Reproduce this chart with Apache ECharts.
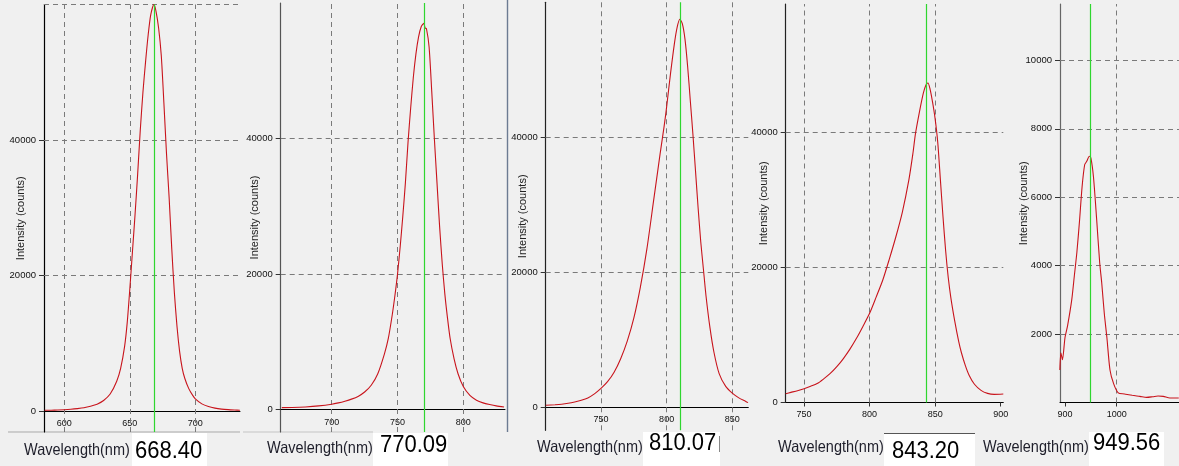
<!DOCTYPE html>
<html><head><meta charset="utf-8">
<script src="https://cdn.jsdelivr.net/npm/echarts@6/dist/echarts.min.js"></script>
<style>html,body{margin:0;padding:0;background:#f0f0f0}#c{width:1179px;height:466px}</style>
</head><body><div id="c"></div><script>
// ---- data: wavelength (nm) and intensity (counts) for each spectrum ----
const p1Wavelength = [585,590,595,600,605,610,615,620,625,630,635,640,643,646,648,650,652,654,656,658,660,662,664,666,668.4,670,672,674,676,678,680,682,684,686,688,690,692,695,698,700,705,710,715,720,725,730,734];
const p1Counts     = [100,110,140,180,250,350,480,700,1000,1550,2500,4400,6300,9500,13000,18000,23500,29000,35000,41500,47000,51500,55500,58500,60000,59000,56500,52500,45500,38000,31500,24000,17500,12500,8800,6300,4800,3300,2300,1800,1050,650,420,280,200,150,120];

const p2Wavelength = [662,670,680,690,700,705,710,715,720,725,730,735,740,743,746,748,750,752,754,756,758,760,762,764,766,768,770,771,772,774,776,778,780,782,784,786,788,790,793,796,800,805,810,815,820,825,831];
const p2Counts     = [300,320,400,550,800,1000,1250,1550,1950,2600,3600,5300,8200,10500,14000,16800,20000,24000,28500,33500,39500,44500,49000,52500,55000,56500,57000,56300,56200,53500,47000,40000,33500,27000,21500,17000,13500,10500,7500,5300,3400,2100,1400,1000,750,550,400];

const p3Wavelength = [708,715,720,725,730,735,740,745,750,755,760,765,770,775,780,785,790,795,798,800,803,806,808,810,812,814,816,818,820,822,824,826,828,830,833,836,840,845,850,855,860,862];
const p3Counts     = [300,380,460,600,800,1050,1400,2000,2800,3800,5200,7200,9800,13200,17800,23500,30500,37500,41500,44500,49500,54000,56300,57500,56800,54500,50500,45500,40500,35000,29500,24500,20500,16500,11800,8200,5000,3100,2100,1400,900,700];

const p4Wavelength = [736,740,745,750,755,760,765,770,775,780,785,790,795,800,805,810,815,820,825,830,833,835,838,841,843,844.5,846,848,850,852,854,856,858,860,862,865,868,870,873,876,880,885,890,895,902];
const p4Counts     = [1300,1500,1750,2050,2400,2800,3500,4300,5300,6500,7900,9500,11300,13200,15600,18100,21200,24500,28200,33000,36800,39800,43000,45800,47000,47300,46500,44500,42000,38500,33000,27500,22500,18500,15500,12000,9000,7400,5500,4000,2700,1800,1350,1200,1250];

const p5Wavelength = [890,892,895,900,905,913,918,923,928,933,938,942,947,950,955,961,967,971,976,981,987,994,1003,1015,1030,1045,1058,1070,1080,1090,1103,1120];
const p5Counts     = [950,1450,1250,1900,2250,3000,3700,4400,5300,6300,6950,7050,7200,7150,6600,5400,4100,3500,2600,1900,950,550,280,250,210,180,150,170,190,180,130,130];

// peak wavelength read-outs (green marker + number box)
const peakWavelengths = [668.40, 770.09, 810.07, 843.20, 949.56];

// tick labels
const p1XTicks = [600,650,700];   const p1YTicks = [0,20000,40000];
const p2XTicks = [700,750,800];   const p2YTicks = [0,20000,40000];
const p3XTicks = [750,800,850];   const p3YTicks = [0,20000,40000];
const p4XTicks = [750,800,850,900]; const p4YTicks = [0,20000,40000];
const p5XTicks = [900,1000];      const p5YTicks = [2000,4000,6000,8000,10000];

// dashed grid lines
const p1XGrid = [600,650,700];  const p1YGrid = [20000,40000,60000];
const p2XGrid = [700,750,800];  const p2YGrid = [20000,40000];
const p3XGrid = [750,800,850];  const p3YGrid = [20000,40000];
const p4XGrid = [750,800,850];  const p4YGrid = [20000,40000];
const p5XGrid = [1000];         const p5YGrid = [2000,4000,6000,8000,10000];

const panels = [
  {wl:p1Wavelength, ct:p1Counts, xt:p1XTicks, yt:p1YTicks, xg:p1XGrid, yg:p1YGrid,
   layout:{left:44, top:4.5, width:196, height:427.5, xMin:584.5, xMax:734.1, yMin:-3100, yMax:60000, ext:true, nameGap:18, axisColor:'#000'}},
  {wl:p2Wavelength, ct:p2Counts, xt:p2XTicks, yt:p2YTicks, xg:p2XGrid, yg:p2YGrid,
   layout:{left:280.7, top:3, width:224.3, height:429, xMin:661.2, xMax:831.7, yMin:-3300, yMax:60000, ext:true, nameGap:20, axisColor:'#555'}},
  {wl:p3Wavelength, ct:p3Counts, xt:p3XTicks, yt:p3YTicks, xg:p3XGrid, yg:p3YGrid,
   layout:{left:545.7, top:2.3, width:202.6, height:428, xMin:707.9, xMax:862.2, yMin:-3400, yMax:60000, ext:true, nameGap:17, axisColor:'#222'}},
  {wl:p4Wavelength, ct:p4Counts, xt:p4XTicks, yt:p4YTicks, xg:p4XGrid, yg:p4YGrid,
   layout:{left:785.7, top:4, width:217.6, height:398.5, xMin:736, xMax:902, yMin:0, yMax:59000, ext:false, nameGap:16, axisColor:'#222'}},
  {wl:p5Wavelength, ct:p5Counts, xt:p5XTicks, yt:p5YTicks, xg:p5XGrid, yg:p5YGrid,
   layout:{left:1060, top:4, width:119, height:398.5, xMin:890.3, xMax:1120.5, yMin:0, yMax:11650, ext:false, nameGap:31, axisColor:'#666'}}
];

const FONT = 'Liberation Sans, Arial, sans-serif';
const plain = v => String(Math.round(v));
const grid = [], xAxis = [], yAxis = [], series = [];
panels.forEach((p, i) => {
  const L = p.layout;
  grid.push({left:L.left, top:L.top, width:L.width, height:L.height, containLabel:false});
  // distance (px) from grid bottom up to the zero line, so the x axis sits on y = 0
  const zeroLift = L.height * (0 - L.yMin) / (L.yMax - L.yMin);
  xAxis.push({
    type:'value', gridIndex:i, min:L.xMin, max:L.xMax, position:'bottom',
    offset:-zeroLift,
    axisLine:{show:true, onZero:false, lineStyle:{color:'#000', width:1}},
    axisTick:{show:!L.ext, length:4, customValues:p.xt, lineStyle:{color:'#333'}},
    axisLabel:{customValues:p.xt, formatter:plain, fontSize:9, color:'#111', fontFamily:FONT, margin:8},
    splitLine:{show:false}
  });
  yAxis.push({
    type:'value', gridIndex:i, min:L.yMin, max:L.yMax,
    name:'Intensity (counts)', nameLocation:'middle', nameGap:L.nameGap, nameMoveOverlap:false,
    nameTextStyle:{fontSize:11, color:'#222', fontFamily:FONT},
    axisLine:{show:true, lineStyle:{color:L.axisColor, width:1.2}},
    axisTick:{show:true, length:5, customValues:p.yt, lineStyle:{color:'#333'}},
    axisLabel:{customValues:p.yt, formatter:plain, fontSize:9.5, color:'#111', fontFamily:FONT, margin:8},
    splitLine:{show:false}
  });
  const gridLines = p.xg.map(v => ({xAxis:v})).concat(p.yg.map(v => ({yAxis:v})));
  series.push({
    type:'line', xAxisIndex:i, yAxisIndex:i, data:p.wl.map((w, k) => [w, p.ct[k]]),
    showSymbol:false, symbol:'none', smooth:0.25, z:3,
    lineStyle:{color:'#c8141c', width:1.1},
    markLine:{silent:true, symbol:['none','none'], label:{show:false}, animation:false,
      lineStyle:{color:'#7a7a7a', type:[5,4], width:1}, data:gridLines, z:1}
  });
  series.push({
    type:'line', xAxisIndex:i, yAxisIndex:i, data:[], z:4,
    markLine:{silent:true, symbol:['none','none'], label:{show:false}, animation:false,
      lineStyle:{color:'#2fd62f', type:'solid', width:1.2}, data:[{xAxis:peakWavelengths[i]}]}
  });
});

// bottom read-out strips
const readouts = [
  {lx:24,  ly:450.5, nx:135,  ny:451.5, bx:132, by:433, bw:75, bh:33},
  {lx:267, ly:448,   nx:380,  ny:445,   bx:373, by:433, bw:75, bh:33},
  {lx:537, ly:447,   nx:649,  ny:443.5, bx:643, by:432, bw:77, bh:34},
  {lx:778, ly:447,   nx:892,  ny:451,   bx:884, by:433, bw:91, bh:33},
  {lx:983, ly:447,   nx:1093, ny:443.5, bx:1089,by:432, bw:75, bh:34}
];
const graphic = [];
graphic.push({type:'line', shape:{x1:8, y1:432, x2:240, y2:432}, style:{stroke:'#a9a9a9', lineWidth:1}, silent:true});
graphic.push({type:'line', shape:{x1:243, y1:432, x2:373, y2:432}, style:{stroke:'#c4c4c4', lineWidth:1}, silent:true});
graphic.push({type:'line', shape:{x1:507.5, y1:0, x2:507.5, y2:432}, style:{stroke:'#6c7b92', lineWidth:1.4}, silent:true});
readouts.forEach((r, i) => {
  graphic.push({type:'rect', shape:{x:r.bx, y:r.by, width:r.bw, height:r.bh}, style:{fill:'#ffffff'}, silent:true});
  graphic.push({type:'text', x:r.lx, y:r.ly, scaleY:1.15, silent:true,
    style:{text:'Wavelength(nm)', fontSize:14.5, fontFamily:FONT, fill:'#1e1e2a', textVerticalAlign:'middle', textAlign:'left'}});
  graphic.push({type:'text', x:r.nx, y:r.ny, scaleY:1.12, silent:true,
    style:{text:peakWavelengths[i].toFixed(2), fontSize:22, fontFamily:FONT, fill:'#000', textVerticalAlign:'middle', textAlign:'left'}});
});
graphic.push({type:'line', shape:{x1:884, y1:433.5, x2:975, y2:433.5}, style:{stroke:'#555', lineWidth:1}, silent:true});
graphic.push({type:'line', shape:{x1:719.5, y1:436, x2:719.5, y2:452}, style:{stroke:'#888', lineWidth:1}, silent:true});

const chart = echarts.init(document.getElementById('c'), null, {renderer:'canvas'});
chart.setOption({
  backgroundColor:'#f0f0f0', animation:false,
  textStyle:{fontFamily:FONT},
  grid, xAxis, yAxis, series, graphic
});
</script></body></html>
